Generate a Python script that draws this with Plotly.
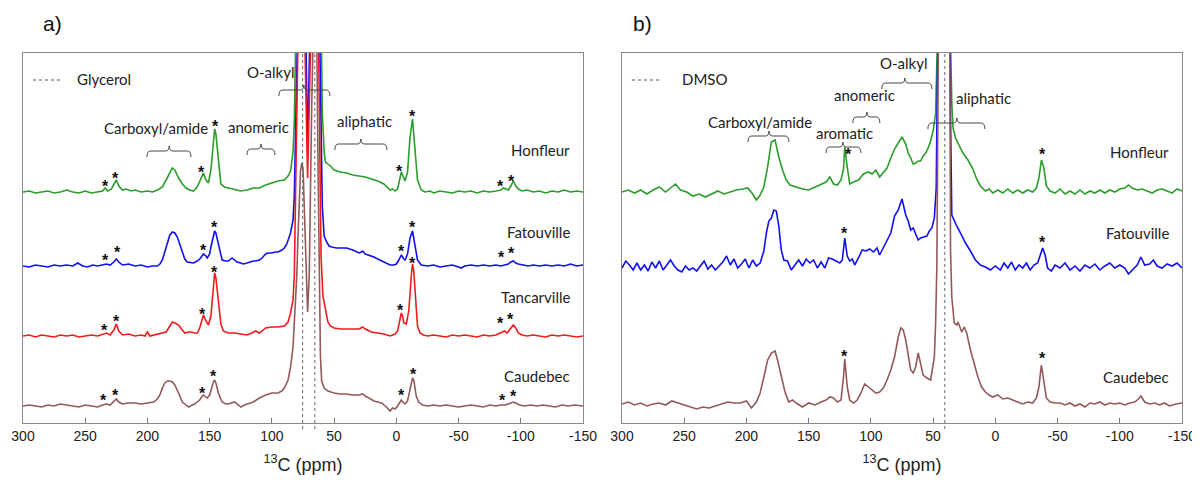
import plotly.graph_objects as go

# ---------------- data (ppm, intensity above each trace's baseline) ----------------
TICKS = [300, 250, 200, 150, 100, 50, 0, -50, -100, -150]
SAMPLES_A = ["Honfleur", "Fatouville", "Tancarville", "Caudebec"]
SAMPLES_B = ["Honfleur", "Fatouville", "Caudebec"]
OFFSETS_A = [231, 157, 87, 17]
OFFSETS_B = [231, 155, 19]
GLYCEROL_PPM = [75.3, 65.5]
DMSO_PPM = [40.6]

HONFLEUR_A = [(300,0),(295,1),(290,-1),(285,0),(280,1),(275,-1),(270,0),(265,2),(260,0),(255,-1),(250,1),(245,-1),(240,0),(236,1),(234,4),(232,1),(229,3),(227,8),(225,12),(223,6),(220,2),(217,3),(213,1),(210,2),(205,0),(200,1),(196,0),(192,2),(188,5),(185,12),(182,20),(180,24),(178,22),(175,14),(172,8),(169,4),(166,2),(163,1),(160,5),(157,14),(155,19),(153,12),(151,9),(149,22),(147,52),(146,63),(145,58),(143,30),(141,8),(138,5),(135,4),(130,3),(125,1),(120,2),(115,4),(110,4),(105,7),(100,9),(95,11),(90,12),(87,16),(85,21),(83,40),(82,70),(81,150),(79,300),(76,500),(73.5,420),(71.3,380),(69,420),(66,500),(63,420),(61,200),(59.5,80),(58,40),(57,30),(55,28),(53,26),(50,22),(45,20),(40,19),(35,17),(30,16),(25,15),(20,13),(15,11),(10,8),(7,4),(5,2),(3,3),(1,1),(-1,3),(-2,8),(-4,20),(-6,14),(-7,11),(-9,20),(-11,55),(-13,73),(-15,40),(-17,12),(-20,2),(-23,0),(-27,1),(-30,-1),(-35,1),(-40,0),(-45,-1),(-50,1),(-55,0),(-60,1),(-65,-1),(-70,1),(-75,0),(-80,1),(-84,2),(-86,4),(-88,3),(-90,2),(-92,6),(-94,11),(-96,6),(-98,3),(-101,1),(-105,2),(-110,0),(-115,1),(-120,-1),(-125,1),(-130,0),(-135,2),(-140,0),(-145,1),(-150,0)]

FATOUVILLE_A = [(300,0),(295,-1),(290,1),(285,0),(280,-1),(275,1),(270,0),(265,1),(260,0),(256,3),(252,0),(248,-1),(244,1),(240,0),(236,1),(233,2),(230,1),(227,4),(225,7),(223,4),(220,1),(215,2),(210,0),(205,1),(200,-1),(196,0),(192,0),(190,2),(188,6),(186,14),(184,24),(182,31),(180,34),(178,33),(176,29),(174,22),(172,13),(170,7),(168,4),(165,3),(163,3),(160,5),(158,7),(155,12),(153,10),(152,8),(150,12),(149,19),(147,30),(146,35),(145,33),(143,21),(141,10),(140,6),(137,5),(135,5),(132,8),(130,6),(128,4),(125,3),(123,2),(120,3),(118,4),(115,5),(113,5),(110,6),(108,8),(105,12),(103,13),(100,13),(97,14),(95,14),(92,16),(90,18),(88,22),(87,26),(85,33),(83,46),(82,70),(81,130),(79,300),(76,450),(73.5,300),(72.5,200),(71.3,114),(70,200),(69,300),(66,450),(63,350),(61,150),(59.5,60),(58,30),(56,24),(54,20),(52,19),(48,18),(45,18),(40,18),(35,16),(30,13),(28,14),(27,15),(25,12),(22,11),(18,9),(15,7),(10,4),(5,1),(2,1),(0,2),(-2,6),(-4,11),(-6,7),(-7,6),(-9,12),(-11,28),(-13,35),(-15,18),(-17,6),(-20,1),(-25,0),(-30,1),(-35,-1),(-40,0),(-45,1),(-50,-1),(-52,-2),(-55,0),(-60,1),(-65,0),(-70,1),(-75,0),(-80,1),(-84,0),(-87,1),(-90,2),(-92,4),(-94,5),(-96,3),(-98,2),(-102,1),(-106,0),(-110,1),(-115,0),(-120,1),(-125,0),(-130,1),(-135,0),(-140,2),(-145,0),(-150,1)]

TANCARVILLE_A = [(300,0),(295,1),(290,-1),(285,1),(280,0),(275,-1),(270,1),(265,0),(260,1),(255,-1),(250,0),(245,1),(240,0),(236,2),(233,3),(230,1),(227,6),(225,12),(223,5),(220,1),(215,2),(210,0),(205,1),(202,0),(200,4),(198,0),(195,1),(190,2),(185,4),(182,10),(180,14),(178,13),(175,11),(172,6),(170,3),(167,4),(165,4),(162,3),(160,3),(158,8),(156,18),(155,21),(153,15),(151,11),(149,20),(147,50),(146,63),(145,58),(143,36),(141,12),(139,5),(135,3),(130,3),(125,2),(120,1),(116,3),(113,5),(110,3),(107,6),(105,8),(100,9),(95,9),(90,10),(87,14),(85,23),(83,36),(82,60),(81,130),(79,300),(76,450),(73.5,300),(72.5,230),(71.3,158),(70,230),(69,320),(66,450),(63,350),(61.5,180),(60.5,80),(59,40),(57,25),(55,14),(53,10),(50,8),(45,7),(40,7),(35,7),(30,7),(27,9),(25,7),(20,4),(15,3),(10,2),(5,0),(3,1),(1,2),(-1,5),(-3,15),(-4,23),(-5,20),(-6,13),(-8,12),(-10,25),(-12,60),(-13,72),(-14,65),(-16,25),(-17,10),(-19,3),(-22,1),(-25,0),(-30,1),(-35,0),(-40,-1),(-45,1),(-50,0),(-55,1),(-60,0),(-65,-1),(-70,1),(-75,0),(-80,1),(-84,3),(-87,5),(-89,3),(-91,6),(-94,11),(-96,8),(-98,3),(-101,1),(-105,0),(-110,1),(-115,0),(-120,-1),(-125,1),(-130,0),(-135,1),(-140,0),(-145,-1),(-150,0)]

CAUDEBEC_A = [(300,0),(295,1),(290,0),(285,-1),(280,1),(275,0),(270,2),(265,1),(260,0),(255,-1),(250,1),(245,0),(240,-1),(236,1),(233,2),(230,1),(227,5),(225,7),(223,4),(220,2),(215,3),(210,3),(205,2),(200,3),(195,4),(192,7),(190,11),(188,18),(186,23),(184,25),(182,25),(180,24),(178,21),(175,13),(172,4),(169,1),(167,-1),(164,1),(162,2),(160,4),(158,6),(156,10),(155,11),(153,9),(152,8),(150,11),(149,16),(147,24),(146,26),(145,23),(143,13),(140,4),(137,2),(135,2),(130,4),(127,1),(125,-1),(122,1),(120,2),(115,4),(110,8),(105,11),(100,13),(95,13),(92,15),(90,18),(87,26),(85,39),(83,59),(82,80),(81,106),(80,130),(79,170),(78,210),(77,235),(76,243),(75,238),(74,200),(73,150),(72,110),(71.3,94),(70,130),(69,220),(68,300),(66,420),(64,380),(63,250),(62,120),(61,50),(60,25),(58,18),(55,15),(50,13),(45,12),(40,12),(35,11),(30,11),(27,12),(25,10),(22,8),(18,5),(15,4),(12,3),(8,-1),(5,-5),(3,-2),(1,-3),(-1,0),(-3,5),(-4,6),(-5,4),(-7,2),(-9,5),(-11,18),(-13,28),(-14,26),(-16,10),(-18,4),(-21,1),(-25,0),(-30,1),(-35,0),(-40,1),(-45,0),(-50,-1),(-55,0),(-60,1),(-65,0),(-70,-1),(-75,1),(-80,0),(-84,1),(-87,1),(-90,2),(-92,3),(-94,4),(-96,3),(-99,1),(-103,0),(-108,1),(-113,0),(-118,1),(-123,0),(-128,-1),(-133,1),(-138,0),(-143,1),(-150,0)]

HONFLEUR_B = [(300,0),(295,2),(290,-1),(285,2),(280,-2),(275,2),(270,5),(265,0),(260,5),(257,8),(253,2),(248,0),(243,-4),(238,-2),(233,-5),(228,-2),(223,1),(218,-2),(213,0),(208,2),(203,3),(199,4),(195,-2),(192,-8),(189,-3),(186,5),(183,25),(180,50),(177,52),(174,35),(171,22),(168,12),(165,7),(160,5),(155,3),(150,2),(145,5),(140,8),(136,10),(133,15),(130,8),(127,7),(124,12),(122,23),(121,45),(119,25),(117,8),(114,10),(110,12),(106,18),(102,20),(99,18),(96,22),(93,15),(90,19),(87,24),(84,34),(81,43),(78,49),(75,55),(72,48),(70,39),(68,34),(66,28),(64,29),(62,31),(60,31),(58,36),(56,39),(54,44),(52,51),(50,61),(48,78),(47,110),(46,180),(45,300),(41,450),(37,300),(36,150),(35,90),(34,64),(32,54),(29,46),(26,39),(22,32),(18,23),(15,13),(12,6),(8,1),(5,3),(2,-1),(-2,2),(-6,-1),(-10,3),(-14,-1),(-18,2),(-22,-1),(-26,2),(-30,0),(-33,4),(-35,14),(-37,32),(-39,24),(-41,6),(-44,1),(-48,-1),(-52,3),(-56,-2),(-60,1),(-64,-2),(-68,2),(-72,-2),(-76,1),(-80,-1),(-84,2),(-88,-1),(-92,2),(-96,0),(-100,3),(-104,4),(-107,7),(-110,4),(-114,2),(-118,3),(-122,1),(-126,-1),(-130,2),(-134,3),(-138,1),(-142,-1),(-146,3),(-150,1)]

FATOUVILLE_B = [(300,0),(297,7),(294,3),(291,-2),(288,5),(285,-2),(282,3),(279,-3),(276,6),(273,0),(270,7),(267,-2),(264,3),(261,8),(258,2),(255,-2),(252,-4),(249,2),(246,-2),(243,0),(240,-3),(237,2),(234,7),(231,-1),(228,3),(225,-2),(222,2),(219,6),(216,12),(213,3),(210,9),(207,0),(204,4),(201,9),(198,0),(195,8),(192,2),(189,5),(186,17),(184,35),(182,47),(180,50),(178,58),(176,57),(174,42),(172,18),(170,8),(167,7),(164,-2),(161,3),(158,8),(155,2),(152,9),(149,5),(146,8),(143,0),(140,6),(137,0),(134,10),(131,9),(128,7),(125,5),(123,8),(121,30),(119,12),(117,7),(115,9),(113,3),(110,10),(107,18),(104,17),(101,19),(98,16),(95,20),(93,13),(90,20),(87,28),(84,35),(81,52),(78,58),(75,69),(72,53),(70,47),(68,38),(66,40),(64,33),(62,28),(60,30),(58,31),(55,32),(53,37),(51,40),(49,50),(47.5,80),(46.5,200),(45.5,400),(41,500),(37,400),(36,150),(35,53),(33,47),(31,42),(28,35),(24,25),(20,17),(16,8),(12,3),(8,1),(4,-2),(0,2),(-4,-2),(-7,5),(-10,0),(-13,6),(-16,-2),(-19,3),(-22,0),(-25,5),(-28,-2),(-31,3),(-34,5),(-36,13),(-38,20),(-40,13),(-42,0),(-45,-3),(-48,3),(-52,0),(-56,5),(-60,-2),(-64,2),(-68,-3),(-72,3),(-76,0),(-80,4),(-84,-2),(-88,2),(-92,5),(-96,0),(-100,3),(-104,0),(-107,-6),(-110,-2),(-114,3),(-117,11),(-120,3),(-124,4),(-127,8),(-130,2),(-134,0),(-138,4),(-142,2),(-146,5),(-150,0)]

CAUDEBEC_B = [(300,0),(295,2),(290,-1),(285,1),(280,-2),(275,0),(270,1),(265,-1),(260,3),(255,1),(250,-1),(245,-3),(240,-5),(235,-3),(230,-4),(225,-2),(220,0),(215,2),(210,1),(205,1),(200,3),(196,-4),(192,2),(189,11),(186,27),(183,44),(180,51),(177,53),(175,44),(172,27),(169,12),(166,2),(163,4),(160,1),(155,-3),(150,1),(145,-1),(140,2),(136,4),(133,7),(130,6),(127,2),(124,4),(122,27),(121,45),(119,17),(117,4),(114,1),(111,4),(108,11),(105,20),(102,17),(99,14),(96,11),(93,12),(90,16),(87,24),(84,34),(81,47),(78,67),(76,76),(74,74),(72,64),(70,47),(68,34),(66,31),(64,37),(62,51),(60,39),(58,29),(55,26),(52,24),(49,47),(48,80),(47,137),(46,300),(45,500),(41,600),(37,500),(36,154),(35,107),(33,81),(31,79),(30,82),(28,74),(27,72),(25,77),(23,71),(20,54),(17,41),(14,27),(11,17),(8,12),(5,9),(2,7),(-2,9),(-6,5),(-10,6),(-14,4),(-18,2),(-22,0),(-26,2),(-30,1),(-33,6),(-35,17),(-37,39),(-39,24),(-41,6),(-44,2),(-48,1),(-52,1),(-56,-1),(-60,1),(-64,-2),(-68,0),(-72,-3),(-76,1),(-80,0),(-84,2),(-88,-1),(-92,1),(-96,0),(-100,1),(-104,-1),(-108,1),(-112,2),(-115,5),(-117,8),(-120,2),(-124,0),(-128,1),(-132,-1),(-136,1),(-140,-2),(-145,0),(-150,1)]

# spinning-sideband asterisks: (ppm, level on stacked scale)
STARS_A = [(234.1,241),(225.3,249),(156.2,255),(145.0,300),(-2.8,256),(-13.0,310),(-83.7,241),(-92.8,246),
           (234.1,167),(223.7,175),(154.6,177),(145.8,200),(-4.4,176),(-13.3,200),(-84.7,170),(-92.8,174),
           (234.9,97),(224.5,106),(155.4,113),(145.8,155),(-3.6,117),(-13.3,164),(-83.9,104),(-92.0,108),
           (235.7,27),(225.3,32),(155.4,34),(146.6,51),(-4.4,32),(-14.1,53),(-85.5,27),(-94.1,31)]
STARS_B = [(117.7,273),(-37.9,273),(120.9,194),(-38.2,185),(120.9,71),(-38.2,69)]

# region labels: (text, text ppm, text level, bracket ppm start, bracket ppm end, notch ppm, bracket level)
REGIONS_A = [("Carboxyl/amide", 192.8, 295, 200.4, 165.0, 182.5, 272),
             ("anomeric", 110.4, 296, 120.0, 97.6, 108.8, 274),
             ("O-alkyl", 101.0, 351, 94.4, 53.4, 74.3, 333),
             ("aliphatic", 25.7, 302, 49.4, 7.6, 28.5, 279)]
REGIONS_B = [("Carboxyl/amide", 189.2, 301, 198.8, 165.9, 181.9, 287),
             ("aromatic", 121.3, 290, 136.0, 108.0, 122.5, 276),
             ("anomeric", 104.8, 328, 114.5, 92.8, 103.2, 306),
             ("O-alkyl", 74.0, 360, 91.2, 51.0, 72.7, 340),
             ("aliphatic", 9.6, 325, 54.2, 8.4, 30.9, 300)]

COLORS = {"Honfleur": "#2a9d2a", "Fatouville": "#1010f0", "Tancarville": "#f21a1a", "Caudebec": "#94595a"}

# ---------------- figure ----------------
# the page body has an 8px margin; the figure is sized to fill the rest of the 1200x480 window
OX, OY = 8, 8
W, H = 1200 - OX, 480 - OY
PLOT_TOP, PLOT_BOT = 53, 423          # window pixels
def fx(px):
    return (px - OX) / W
def fy(py):
    return 1 - (py - OY) / H

YR = [0, 370]
fig = go.Figure()

spectra_a = [HONFLEUR_A, FATOUVILLE_A, TANCARVILLE_A, CAUDEBEC_A]
spectra_b = [HONFLEUR_B, FATOUVILLE_B, CAUDEBEC_B]

for name, off, spec in zip(SAMPLES_A, OFFSETS_A, spectra_a):
    fig.add_trace(go.Scatter(x=[p for p, _ in spec], y=[off + v for _, v in spec], mode="lines",
                             line=dict(color=COLORS[name], width=1.6), xaxis="x", yaxis="y",
                             showlegend=False, hoverinfo="skip"))
for name, off, spec in zip(SAMPLES_B, OFFSETS_B, spectra_b):
    fig.add_trace(go.Scatter(x=[p for p, _ in spec], y=[off + v for _, v in spec], mode="lines",
                             line=dict(color=COLORS[name], width=1.6), xaxis="x2", yaxis="y2",
                             showlegend=False, hoverinfo="skip"))

axis_common = dict(range=[300, -150], tickvals=TICKS, ticktext=[str(t) for t in TICKS],
                   ticks="inside", ticklen=5, tickcolor="#777", showline=True, linecolor="#8a8a8a",
                   linewidth=1, mirror=True, showgrid=False, zeroline=False, automargin=False,
                   tickfont=dict(family="Liberation Sans, Arial", size=14, color="#222"),
                   title=dict(text="<sup>13</sup>C (ppm)", font=dict(family="Liberation Sans, Arial", size=18, color="#222"),
                              standoff=15))
yaxis_common = dict(range=YR, showticklabels=False, ticks="", showline=True, linecolor="#8a8a8a",
                    linewidth=1, mirror=True, showgrid=False, zeroline=False, automargin=False,
                    domain=[fy(PLOT_BOT), fy(PLOT_TOP)])

fig.update_layout(
    width=W, height=H, margin=dict(l=0, r=0, t=0, b=0, autoexpand=False),
    plot_bgcolor="white", paper_bgcolor="white",
    xaxis=dict(domain=[fx(23), fx(583)], anchor="y", **axis_common),
    yaxis=dict(anchor="x", **yaxis_common),
    xaxis2=dict(domain=[fx(622), fx(1182)], anchor="y2", **axis_common),
    yaxis2=dict(anchor="x2", **yaxis_common),
)

LABEL_FONT = dict(family="Lato, Liberation Sans", size=15, color="#222")
ann = []
shapes = []

# reference dotted lines (glycerol / DMSO)
for xr, ppms in (("x", GLYCEROL_PPM), ("x2", DMSO_PPM)):
    for p in ppms:
        shapes.append(dict(type="line", xref=xr, yref="paper", x0=p, x1=p,
                           y0=fy(429), y1=fy(PLOT_TOP),
                           line=dict(color="#666", width=1, dash="dot")))

# legend entries
for xr, yr, lab in (("x", "y", "Glycerol"), ("x2", "y2", "DMSO")):
    shapes.append(dict(type="line", xref=xr, yref=yr, x0=292, x1=268, y0=343, y1=343,
                       line=dict(color="#555", width=1, dash="dot")))
    ann.append(dict(x=258 if lab == "Glycerol" else 253.4, y=344, xref=xr, yref=yr, text=lab,
                    showarrow=False, xanchor="left", yanchor="middle", font=LABEL_FONT))

# sample names
for xr, yr, names, levels in (("x", "y", SAMPLES_A, [273, 191, 126, 47]),
                              ("x2", "y2", SAMPLES_B, [271, 190, 46])):
    for n, lv in zip(names, levels):
        ann.append(dict(x=-141.5, y=lv, xref=xr, yref=yr, text=n, showarrow=False,
                        xanchor="right", yanchor="middle", font=LABEL_FONT))

# region brackets and labels
def brace(x1, x2, xm, y, hook=6, notch=5, d=3):
    return (f"M {x1},{y - hook} Q {x1},{y} {x1 - d},{y} L {xm + d},{y} Q {xm},{y} {xm},{y + notch} "
            f"Q {xm},{y} {xm - d},{y} L {x2 + d},{y} Q {x2},{y} {x2},{y - hook}")

for xr, yr, regions in (("x", "y", REGIONS_A), ("x2", "y2", REGIONS_B)):
    for text, tx, ty, b1, b2, bm, by in regions:
        ann.append(dict(x=tx, y=ty, xref=xr, yref=yr, text=text, showarrow=False,
                        xanchor="center", yanchor="middle", font=LABEL_FONT))
        shapes.append(dict(type="path", xref=xr, yref=yr, path=brace(b1, b2, bm, by),
                           line=dict(color="#444", width=1)))

# asterisks
for xr, yr, stars in (("x", "y", STARS_A), ("x2", "y2", STARS_B)):
    for p, lv in stars:
        ann.append(dict(x=p, y=lv, xref=xr, yref=yr, text="<b>*</b>", showarrow=False,
                        xanchor="center", yanchor="middle", yshift=-4,
                        font=dict(family="Liberation Sans, Arial", size=16, color="#111")))

# panel letters
for px, lab in ((52, "a)"), (642, "b)")):
    ann.append(dict(x=fx(px), y=fy(23), xref="paper", yref="paper", text=lab, showarrow=False,
                    xanchor="center", yanchor="middle",
                    font=dict(family="Liberation Sans, Arial", size=21, color="#111")))

fig.update_layout(annotations=ann, shapes=shapes)
fig.write_html("out.html")
